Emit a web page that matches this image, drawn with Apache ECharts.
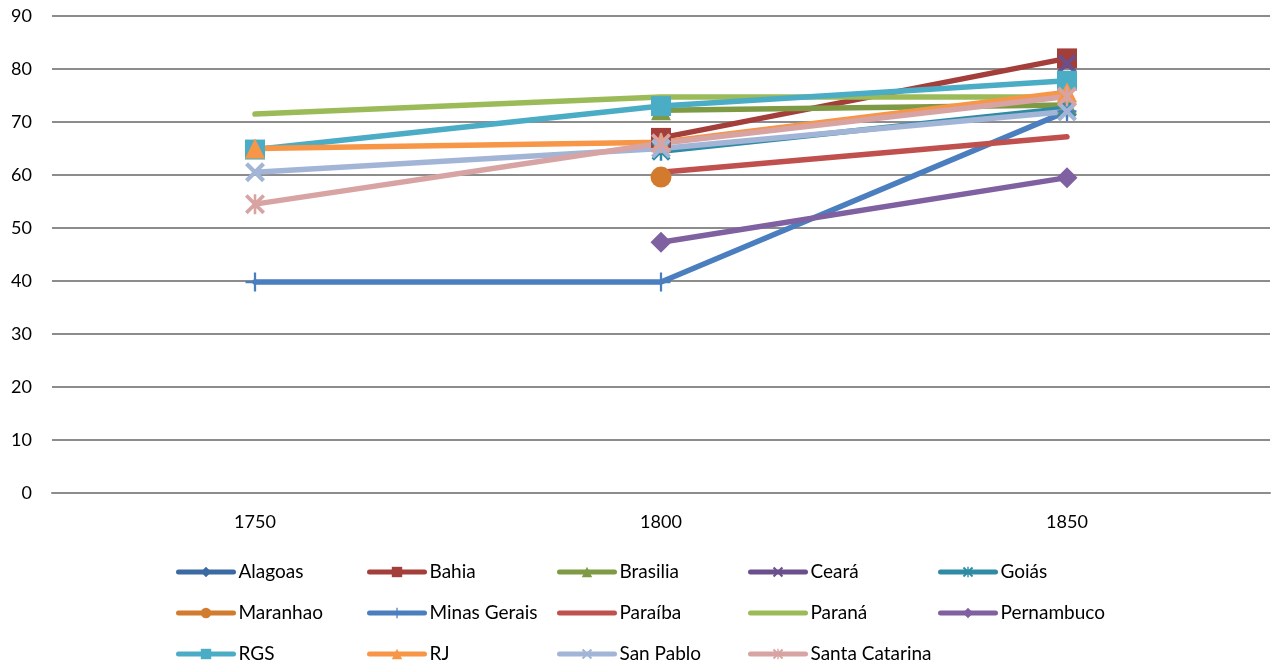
<!DOCTYPE html>
<html>
<head>
<meta charset="utf-8">
<script src="https://cdn.jsdelivr.net/npm/echarts@6/dist/echarts.min.js"></script>
<style>
  html, body { margin: 0; padding: 0; background: #fff; }
  #chart { width: 1278px; height: 670px; }
</style>
</head>
<body>
<div id="chart"></div>
<script>
// Years on the category axis
const years = ['1750', '1800', '1850'];

// One array per province (null = no observation)
const alagoas       = [null, null, null];
const bahia         = [null, 67.0, 82.0];
const brasilia      = [null, 72.2, 73.2];
const ceara         = [null, null, 81.0];
const goias         = [null, 64.5, 72.6];
const maranhao      = [null, 59.6, null];
const minasGerais   = [39.8, 39.8, 72.0];
const paraiba       = [null, 60.5, 67.2];
const parana        = [71.5, 74.7, 74.7];
const pernambuco    = [null, 47.3, 59.5];
const rgs           = [64.8, 73.0, 77.8];
const rj            = [65.0, 66.2, 75.6];
const sanPablo      = [60.5, 65.0, 72.0];
const santaCatarina = [54.5, 66.0, 74.8];

const yTicks = { min: 0, max: 90, interval: 10 };

// Marker shapes
const X_SHAPE = 'path://M0,1.5L1.5,0L10,8.5L8.5,10Z M8.5,0L10,1.5L1.5,10L0,8.5Z';
const STAR_SHAPE = 'path://M0,1.3L1.3,0L10,8.7L8.7,10Z M8.7,0L10,1.3L1.3,10L0,8.7Z M4.35,0L5.65,0L5.65,10L4.35,10Z';
const PLUS_SHAPE = 'path://M4.4,0L5.6,0L5.6,10L4.4,10Z M0,4.4L10,4.4L10,5.6L0,5.6Z';

// marked: false -> plain line, marker hidden in chart and legend
const seriesDefs = [
  { name: 'Alagoas',        data: alagoas,       color: '#3B6AA3', symbol: 'diamond',  size: 20, marked: true },
  { name: 'Bahia',          data: bahia,         color: '#A43E3B', symbol: 'rect',     size: 20, marked: true },
  { name: 'Brasilia',       data: brasilia,      color: '#7E9A45', symbol: 'triangle', size: 20, marked: true },
  { name: 'Ceará',          data: ceara,         color: '#6A4F8C', symbol: X_SHAPE,    size: 19, marked: true },
  { name: 'Goiás',          data: goias,         color: '#2F8BA4', symbol: STAR_SHAPE, size: 19, marked: true },
  { name: 'Maranhao',       data: maranhao,      color: '#D27A2E', symbol: 'circle',   size: 21, marked: true },
  { name: 'Minas Gerais',   data: minasGerais,   color: '#4A7EBF', symbol: PLUS_SHAPE, size: 19, marked: true },
  { name: 'Paraíba',        data: paraiba,       color: '#C0504D', symbol: 'circle',   size: 0,  marked: false },
  { name: 'Paraná',         data: parana,        color: '#9BBB59', symbol: 'circle',   size: 0,  marked: false },
  { name: 'Pernambuco',     data: pernambuco,    color: '#7F60A0', symbol: 'diamond',  size: 21, marked: true },
  { name: 'RGS',            data: rgs,           color: '#4BACC6', symbol: 'rect',     size: 20, marked: true },
  { name: 'RJ',             data: rj,            color: '#F79646', symbol: 'triangle', size: 20, marked: true },
  { name: 'San Pablo',      data: sanPablo,      color: '#A3B5D7', symbol: X_SHAPE,    size: 20, marked: true },
  { name: 'Santa Catarina', data: santaCatarina, color: '#D7A4A3', symbol: STAR_SHAPE, size: 20, marked: true }
];

// Legend grid: 5 columns, rows filled left to right; one vertical legend per column
const LEGEND_COLS = 5;
const legendColumns = [];
for (let c = 0; c < LEGEND_COLS; c++) {
  legendColumns.push(seriesDefs.filter((s, i) => i % LEGEND_COLS === c).map(s => s.name));
}
const legendColLeft = [176, 367, 557, 748, 938];

const FONT = 'Lato, "Open Sans", sans-serif';

const chart = echarts.init(document.getElementById('chart'), null, { renderer: 'canvas' });

chart.setOption({
  animation: false,
  backgroundColor: '#fff',
  grid: { left: 52, right: 8, top: 16, bottom: 177, containLabel: false },
  xAxis: {
    type: 'category',
    data: years,
    boundaryGap: true,
    axisLine: { show: true, lineStyle: { color: '#8C8C8C', width: 2 } },
    axisTick: { show: false },
    axisLabel: { color: '#000', fontSize: 18, fontFamily: FONT, margin: 20 }
  },
  yAxis: {
    type: 'value',
    min: yTicks.min,
    max: yTicks.max,
    interval: yTicks.interval,
    axisLine: { show: false },
    axisTick: { show: false },
    axisLabel: { color: '#000', fontSize: 18, fontFamily: FONT, margin: 20 },
    splitLine: { show: true, lineStyle: { color: '#8C8C8C', width: 2 } }
  },
  legend: legendColumns.map((names, c) => ({
    id: 'legendCol' + c,
    data: names,
    left: legendColLeft[c],
    top: 561,
    orient: 'vertical',
    padding: 0,
    itemGap: 19,
    itemWidth: 55,
    itemHeight: 13,
    lineStyle: { width: 5, cap: 'round' },
    textStyle: { color: '#000', fontSize: 19, fontFamily: FONT, lineHeight: 22 }
  })),
  series: seriesDefs.map(s => ({
    name: s.name,
    type: 'line',
    data: s.data,
    connectNulls: false,
    symbol: s.symbol,
    symbolSize: s.size,
    showSymbol: s.marked,
    showAllSymbol: true,
    color: s.color,
    itemStyle: { color: s.color, borderWidth: 0, opacity: s.marked ? 1 : 0 },
    lineStyle: { color: s.color, width: 5.5, cap: 'round', join: 'round', opacity: 1 },
    emphasis: { disabled: true }
  }))
});
</script>
</body>
</html>
